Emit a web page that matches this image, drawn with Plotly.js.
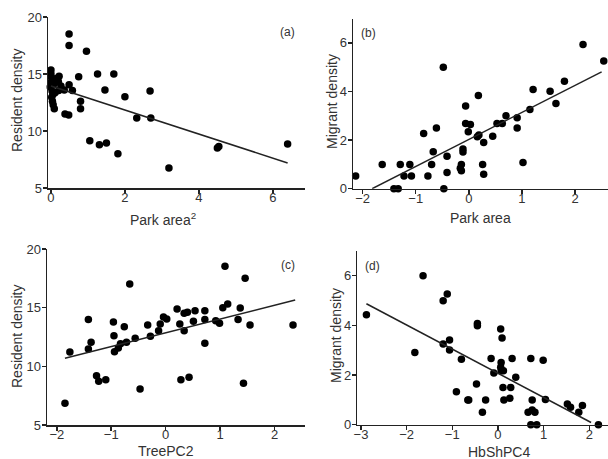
<!DOCTYPE html>
<html><head><meta charset="utf-8">
<script src="https://cdn.plot.ly/plotly-3.0.1.min.js"></script>
<style>html,body{margin:0;padding:0;background:#fff}#chart{width:608px;height:459px}</style>
</head><body><div id="chart"></div>
<script>
// Panel (a): Resident density vs Park area^2
const aX = [0.49,0.49,0.96,0,0,0.02,0.22,0,0.09,0.2,-0.02,0.27,0.21,0.36,0.49,0.58,0.02,0.04,0.06,0.09,0.03,0.75,1.26,1.70,1.46,2.68,2.0,0.80,0.80,0.38,0.48,2.32,2.70,1.05,1.31,1.50,1.81,3.19,4.50,4.54,6.40,0.11,0.15,0.05];
const aY = [18.5,17.5,17.0,15.35,15.0,14.65,14.8,14.25,14.15,14.35,13.85,13.95,13.55,13.6,14.05,13.55,12.95,12.6,12.3,11.95,13.5,14.75,15.0,15.0,13.6,13.5,13.0,12.6,11.95,11.5,11.4,11.15,11.15,9.15,8.8,8.95,8.0,6.75,8.5,8.65,8.85,13.35,14.6,13.2];
const aFitX = [0, 6.4];
const aFitY = [13.94, 7.2];

// Panel (b): Migrant density vs Park area
const bX = [-2.13,-1.63,-1.29,-1.11,-1.41,-1.33,-1.22,-1.08,-0.77,-0.70,-0.67,-0.85,-0.61,-0.41,-0.41,-0.47,-0.48,-0.14,-0.16,-0.14,-0.11,-0.11,-0.06,-0.06,0.03,-0.01,0.18,0.16,0.19,0.28,0.26,0.28,0.45,0.53,0.63,0.70,0.91,0.91,1.02,1.15,1.21,1.53,1.64,1.80,2.15,2.54];
const bY = [0.52,1.0,1.0,1.0,0,0,0.52,0.52,0.52,1.0,1.52,2.27,2.5,1.34,0.67,0,5.0,1.0,0.84,0.74,1.63,1.51,3.40,2.68,2.64,2.34,3.84,2.14,2.21,1.90,1.0,0.59,2.16,2.68,2.68,3.0,2.92,2.5,1.08,3.26,4.08,4.01,3.51,4.42,5.93,5.25];
const bFitX = [-1.82, 2.50];
const bFitY = [0.0, 4.81];

// Panel (c): Resident density vs TreePC2
const cX = [-1.85,-1.76,-1.42,-1.37,-1.42,-1.27,-1.23,-1.10,-0.96,-0.95,-0.94,-0.87,-0.83,-0.72,-0.76,-0.66,-0.56,-0.47,-0.33,-0.28,-0.13,-0.10,-0.04,0.02,0.21,0.26,0.28,0.34,0.34,0.40,0.43,0.54,0.51,0.72,0.72,0.72,0.92,0.99,1.09,1.05,1.14,1.33,1.37,1.46,1.43,1.55,2.34];
const cY = [6.85,11.22,14.0,12.05,11.48,9.2,8.72,8.86,13.78,12.61,11.25,11.56,11.93,12.05,13.38,17.02,12.39,8.07,13.52,12.56,13.04,13.61,14.2,14.03,14.89,13.61,8.86,14.52,13.04,14.6,9.06,14.74,13.84,14.74,14.0,11.96,13.89,13.67,18.52,15.0,15.31,14.0,14.97,17.5,8.55,13.52,13.52];
const cFitX = [-1.85, 2.38];
const cFitY = [10.68, 15.65];

// Panel (d): Migrant density vs HbShPC4
const dX = [-2.88,-1.64,-1.82,-1.20,-1.11,-1.20,-1.06,-1.06,-0.80,-0.91,-0.66,-0.64,-0.45,-0.45,-0.47,-0.27,-0.34,-0.15,-0.09,0.06,0.09,0.07,0.06,0.07,0.12,0.11,0.13,0.26,0.28,0.31,0.39,0.72,0.99,0.75,0.66,0.75,0.81,0.72,0.85,1.04,1.52,1.59,1.77,1.85,2.20];
const dY = [4.43,6.0,2.91,4.99,5.26,3.25,3.41,3.01,2.64,1.33,0.99,0.99,4.08,3.99,1.64,0.99,0.50,2.67,2.08,3.85,3.49,2.51,2.31,2.17,2.17,1.50,0.99,1.07,1.50,2.67,1.91,2.67,2.60,0.99,0.50,0.59,0.50,0,0,1.01,0.83,0.70,0.50,0.77,0];
const dFitX = [-2.88, 2.04];
const dFitY = [4.87, 0.09];

const axisTitles = ["Resident density","Park area<sup>2</sup>","Migrant density","Park area","Resident density","TreePC2","Migrant density","HbShPC4"];
const panelLabels = ["(a)","(b)","(c)","(d)"];

const W = 608, H = 459;
const FONT = "Arial, 'Liberation Sans', sans-serif";
const px = v => v / W;
const py = v => 1 - v / H;

function pts(x, y, xa, ya) {
  return {x: x, y: y, xaxis: xa, yaxis: ya, type: 'scatter', mode: 'markers',
    marker: {color: '#000', size: 7.5}, cliponaxis: false, hoverinfo: 'skip', showlegend: false};
}
function fit(x, y, xa, ya) {
  return {x: x, y: y, xaxis: xa, yaxis: ya, type: 'scatter', mode: 'lines',
    line: {color: '#222', width: 1.5}, cliponaxis: false, hoverinfo: 'skip', showlegend: false};
}
const data = [
  pts(aX, aY, 'x', 'y'), fit(aFitX, aFitY, 'x', 'y'),
  pts(bX, bY, 'x2', 'y2'), fit(bFitX, bFitY, 'x2', 'y2'),
  pts(cX, cY, 'x3', 'y3'), fit(cFitX, cFitY, 'x3', 'y3'),
  pts(dX, dY, 'x4', 'y4'), fit(dFitX, dFitY, 'x4', 'y4')
];

function ax(domain, range, dtick, anchor, isY) {
  return {domain: domain, range: range, dtick: dtick, tick0: 0, anchor: anchor,
    showgrid: false, zeroline: false, showline: true, linecolor: '#222', linewidth: 1.5,
    ticks: 'outside', ticklen: 4, tickwidth: 1.5, tickcolor: '#222',
    ticklabelstandoff: isY ? -2 : -7,
    tickfont: {family: FONT, size: 13, color: '#333'}, fixedrange: true, automargin: false};
}

const layout = {
  width: W, height: H, margin: {l: 0, r: 0, t: 0, b: 0},
  paper_bgcolor: '#fff', plot_bgcolor: 'rgba(0,0,0,0)', showlegend: false,
  xaxis:  ax([px(48), px(305)], [-0.08, 6.87], 2, 'y'),
  yaxis:  ax([py(188), py(17)], [5, 20], 5, 'x', true),
  xaxis2: ax([px(353), px(608)], [-2.18, 2.62], 1, 'y2'),
  yaxis2: ax([py(188.7), py(18.6)], [0, 7], 2, 'x2', true),
  xaxis3: ax([px(47), px(305)], [-2.18, 2.56], 1, 'y3'),
  yaxis3: ax([py(425), py(249)], [5, 20], 5, 'x3', true),
  xaxis4: ax([px(357.3), px(608)], [-3.08, 2.41], 1, 'y4'),
  yaxis4: ax([py(424.7), py(250.9)], [0, 7], 2, 'x4', true),
  annotations: []
};

const titleFont = {family: FONT, size: 14, color: '#333'};
const yTitlePos = [[17, 100], [332, 102], [17, 336], [336, 336]];
const xTitlePos = [[163, 219], [480, 218], [166, 451], [499, 452]];
for (let i = 0; i < 4; i++) {
  layout.annotations.push({text: axisTitles[2*i], x: px(yTitlePos[i][0]), y: py(yTitlePos[i][1]),
    xref: 'paper', yref: 'paper', showarrow: false, textangle: -90, font: titleFont,
    xanchor: 'center', yanchor: 'middle'});
  layout.annotations.push({text: axisTitles[2*i+1], x: px(xTitlePos[i][0]), y: py(xTitlePos[i][1]),
    xref: 'paper', yref: 'paper', showarrow: false, font: titleFont,
    xanchor: 'center', yanchor: 'middle'});
}
const labelPos = [[287, 32], [368, 33], [288, 265], [372, 266]];
for (let i = 0; i < 4; i++) {
  layout.annotations.push({text: panelLabels[i], x: px(labelPos[i][0]), y: py(labelPos[i][1]),
    xref: 'paper', yref: 'paper', showarrow: false, font: {family: FONT, size: 12, color: '#333'},
    xanchor: 'center', yanchor: 'middle'});
}

Plotly.newPlot('chart', data, layout, {displayModeBar: false, staticPlot: true});
</script></body></html>
